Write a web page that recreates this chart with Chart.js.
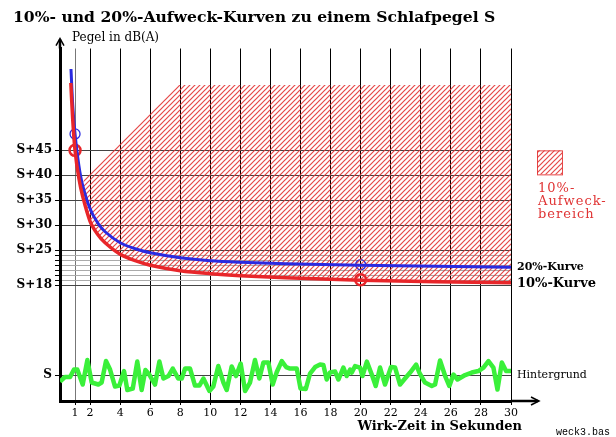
<!DOCTYPE html>
<html>
<head>
<meta charset="utf-8">
<script src="https://cdn.jsdelivr.net/npm/chart.js@4.4.1/dist/chart.umd.min.js"></script>
<style>
  html, body { margin: 0; padding: 0; background: #fff; }
</style>
</head>
<body>
<canvas id="chart" width="616" height="437"></canvas>
<script>
// axis ticks
const xTicks = [1, 2, 4, 6, 8, 10, 12, 14, 16, 18, 20, 22, 24, 26, 28, 30];
const yTicks = [0, 18, 19, 20, 21, 22, 23, 24, 25, 30, 35, 40, 45];
const yTickLabels = { 0: 'S', 18: 'S+18', 25: 'S+25', 30: 'S+30', 35: 'S+35', 40: 'S+40', 45: 'S+45' };

// 10%-Kurve (dB above S)
const t10 = [0.72, 0.85, 1, 1.25, 1.5, 2, 2.5, 3, 4, 5, 6, 8, 10, 12, 15, 20, 25, 30];
const db10 = [58.5, 51, 45, 39.5, 35.9, 30.8, 28.2, 26.5, 24.2, 22.9, 22.0, 20.9, 20.3, 19.9, 19.5, 19.0, 18.7, 18.5];

// 20%-Kurve
const t20 = [0.73, 0.85, 1, 1.25, 1.5, 2, 2.5, 3, 4, 5, 6, 8, 10, 12, 15, 20, 25, 30];
const db20 = [61.3, 53.9, 48.3, 42.1, 38.1, 33.3, 30.5, 28.7, 26.5, 25.3, 24.5, 23.5, 22.9, 22.6, 22.3, 22.0, 21.8, 21.6];

// Hintergrund (noise around S)
const tBg = [0, 0.33, 0.67, 0.93, 1.15, 1.51, 1.82, 2.11, 2.55, 2.77, 3.06, 3.33, 3.66, 3.95, 4.26, 4.48, 4.84,
  5.14, 5.43, 5.68, 5.94, 6.32, 6.61, 6.88, 7.21, 7.5, 7.87, 8.1, 8.32, 8.65, 8.98, 9.27, 9.54, 9.94, 10.2,
  10.53, 10.87, 11.09, 11.42, 11.71, 12.02, 12.31, 12.64, 12.97, 13.26, 13.53, 13.86, 14.15, 14.42, 14.75,
  15.04, 15.3, 15.75, 16.0, 16.35, 16.63, 16.97, 17.3, 17.52, 17.74, 17.96, 18.3, 18.52, 18.85, 19.07, 19.3,
  19.41, 19.63, 19.96, 20.12, 20.41, 20.74, 21.0, 21.29, 21.62, 22.02, 22.29, 22.62, 22.95, 23.29, 23.69,
  23.9, 24.28, 24.73, 24.95, 25.28, 25.62, 25.9, 26.17, 26.44, 26.95, 27.39, 27.83, 28.17, 28.5, 28.83,
  29.1, 29.39, 29.67, 30];
const dbBg = [-1.3, -0.4, -0.4, 1.1, 1.1, -1.9, 3.0, -1.5, -1.9, -1.5, 2.8, 1.1, -2.3, -2.1, 0.8, -3.0, -2.7,
  2.7, -3.0, 1.0, 0.1, -1.9, 2.7, -0.7, -0.2, 1.3, -0.7, -0.7, 1.3, 1.3, -2.1, -2.1, -0.7, -3.2, -2.3,
  1.8, -1.5, -3.0, 1.7, -0.2, 2.3, -3.2, -1.5, 3.0, -0.7, 2.5, 2.5, -1.9, 0.6, 2.8,
  1.6, 1.3, 1.3, -2.7, -2.8, 0.3, 1.6, 2.1, 2.0, -0.9, 0.5, 0.7, -0.9, 1.5, -0.2, 1.1,
  0.5, 1.8, 1.5, -0.2, 2.7, 0.1, -2.2, 1.5, -1.9, 1.6, 1.5, -1.9, -0.7, 0.5, 2.1,
  0.5, -1.5, -2.2, -1.9, 2.9, -0.2, -2.2, 0.1, -0.9, 0, 0.5, 0.8, 1.5, 2.8, 1.5,
  -2.9, 2.5, 0.8, 0.8];

// upper edge of the hatched 10%-Aufweckbereich
const tWake = [1.55, 7.77, 30];
const dbWake = [39.4, 58.1, 58.1];

// marked points
const mark10 = [[1, 45], [20, 19.1]];
const mark20 = [[1, 48.3], [20, 22.1]];

const pts = (xs, ys) => xs.map((x, i) => ({ x: x, y: ys[i] }));

function hatch(color) {
  const c = document.createElement('canvas');
  c.width = 5; c.height = 5;
  const g = c.getContext('2d');
  g.strokeStyle = color;
  g.lineWidth = 1.2;
  g.beginPath();
  g.moveTo(0, 5); g.lineTo(5, 0);
  g.moveTo(-1, 1); g.lineTo(1, -1);
  g.moveTo(4, 6); g.lineTo(6, 4);
  g.stroke();
  return g.createPattern(c, 'repeat');
}
const hatchFill = hatch('rgba(226,52,52,0.9)');

const serif = '"DejaVu Serif", serif';

const extras = {
  id: 'extras',
  afterDraw(chart) {
    const ctx = chart.ctx;
    const a = chart.chartArea;
    const y = chart.scales.y;
    ctx.save();
    // axis arrows
    ctx.strokeStyle = '#000';
    ctx.lineWidth = 2.5;
    ctx.beginPath();
    ctx.moveTo(a.left, a.top); ctx.lineTo(a.left, a.top - 9);
    ctx.moveTo(a.right, a.bottom); ctx.lineTo(a.right + 27, a.bottom);
    ctx.stroke();
    ctx.lineWidth = 1.5;
    ctx.beginPath();
    ctx.moveTo(a.left - 4, a.top - 3); ctx.lineTo(a.left, a.top - 10); ctx.lineTo(a.left + 4, a.top - 3);
    ctx.moveTo(a.right + 20, a.bottom - 4); ctx.lineTo(a.right + 28, a.bottom); ctx.lineTo(a.right + 20, a.bottom + 4);
    ctx.stroke();

    ctx.fillStyle = '#000';
    ctx.textBaseline = 'middle';
    ctx.textAlign = 'left';
    ctx.font = '12px ' + serif;
    ctx.fillText('Pegel in dB(A)', a.left + 12, a.top - 11);

    ctx.font = 'bold 11px ' + serif;
    ctx.fillText('20%-Kurve', a.right + 6, y.getPixelForValue(db20[db20.length - 1]));
    ctx.font = 'bold 13px ' + serif;
    ctx.fillText('10%-Kurve', a.right + 6, y.getPixelForValue(db10[db10.length - 1]) + 1);
    ctx.font = '11px ' + serif;
    ctx.fillText('Hintergrund', a.right + 6, y.getPixelForValue(0));

    ctx.font = 'bold 13px ' + serif;
    ctx.textAlign = 'right';
    ctx.fillText('Wirk-Zeit in Sekunden', a.right + 11, 427);
    ctx.font = '10px "Liberation Mono", monospace';
    ctx.fillText('weck3.bas', 610, 432);

    // legend of hatched area
    const bx = 537, by = y.getPixelForValue(45);
    ctx.fillStyle = hatchFill;
    ctx.fillRect(bx, by, 25, 24);
    ctx.strokeStyle = 'rgba(226,52,52,0.9)';
    ctx.lineWidth = 1;
    ctx.strokeRect(bx + 0.5, by + 0.5, 25, 24);
    ctx.fillStyle = '#e03434';
    ctx.textAlign = 'left';
    ctx.font = '13px ' + serif;
    ctx.letterSpacing = '1px';
    ctx.fillText('10%-', bx + 1, by + 38);
    ctx.fillText('Aufweck-', bx + 1, by + 51);
    ctx.fillText('bereich', bx + 1, by + 64);
    ctx.restore();
  }
};

new Chart(document.getElementById('chart').getContext('2d'), {
  type: 'line',
  data: {
    datasets: [
      {
        label: '10%-Kurve',
        data: pts(t10, db10),
        borderColor: '#e8262a',
        borderWidth: 3.5,
        pointRadius: 0,
        tension: 0.3,
        fill: false
      },
      {
        label: '20%-Kurve',
        data: pts(t20, db20),
        borderColor: '#2a2ae0',
        borderWidth: 3,
        pointRadius: 0,
        tension: 0.3,
        fill: false
      },
      {
        label: 'Hintergrund',
        data: pts(tBg, dbBg),
        borderColor: '#3af03a',
        borderWidth: 4.5,
        borderJoinStyle: 'round',
        pointRadius: 0,
        tension: 0,
        fill: false
      },
      {
        label: '10%-Aufweckbereich',
        data: pts(tWake, dbWake),
        borderWidth: 0,
        borderColor: 'rgba(0,0,0,0)',
        backgroundColor: hatchFill,
        pointRadius: 0,
        tension: 0,
        fill: { target: 0 }
      },
      {
        label: '10% marks',
        data: mark10.map(p => ({ x: p[0], y: p[1] })),
        showLine: false,
        pointRadius: 5.5,
        pointBorderWidth: 2.5,
        pointBorderColor: '#e8262a',
        pointBackgroundColor: 'rgba(0,0,0,0)'
      },
      {
        label: '20% marks',
        data: mark20.map(p => ({ x: p[0], y: p[1] })),
        showLine: false,
        pointRadius: 5,
        pointBorderWidth: 1.3,
        pointBorderColor: '#2a2ae0',
        pointBackgroundColor: 'rgba(0,0,0,0)'
      }
    ]
  },
  options: {
    responsive: false,
    animation: false,
    layout: { padding: { left: 13, right: 105, top: 0, bottom: 0 } },
    plugins: {
      legend: { display: false },
      tooltip: { enabled: false },
      title: {
        display: true,
        text: '10%- und 20%-Aufweck-Kurven zu einem Schlafpegel S',
        align: 'start',
        color: '#000',
        font: { family: serif, size: 15.6, weight: 'bold', lineHeight: 1.2 },
        padding: { top: 9, bottom: 20.8 }
      }
    },
    scales: {
      x: {
        type: 'linear',
        min: 0,
        max: 30,
        afterBuildTicks: s => { s.ticks = xTicks.map(v => ({ value: v })); },
        afterFit: s => { s.height = 36; },
        grid: {
          color: c => (c.tick && c.tick.value === 1 ? '#777' : '#000'),
          lineWidth: 1,
          tickLength: 4,
          tickColor: '#000'
        },
        border: { color: '#000', width: 3 },
        ticks: {
          autoSkip: false,
          maxRotation: 0,
          padding: 2,
          color: '#000',
          font: { family: serif, size: 11 }
        }
      },
      y: {
        type: 'linear',
        min: -5.2,
        max: 65.4,
        afterBuildTicks: s => { s.ticks = yTicks.map(v => ({ value: v })); },
        afterFit: s => { s.width = 47; },
        grid: {
          color: c => (c.tick && c.tick.value > 18 && c.tick.value < 25 ? '#aaa' : '#444'),
          lineWidth: 1,
          tickLength: 5,
          tickColor: '#000'
        },
        border: { color: '#000', width: 3 },
        ticks: {
          padding: 3,
          color: '#000',
          font: { family: serif, size: 12, weight: 'bold' },
          callback: v => yTickLabels[v] || ''
        }
      }
    }
  },
  plugins: [extras]
});
</script>
</body>
</html>
